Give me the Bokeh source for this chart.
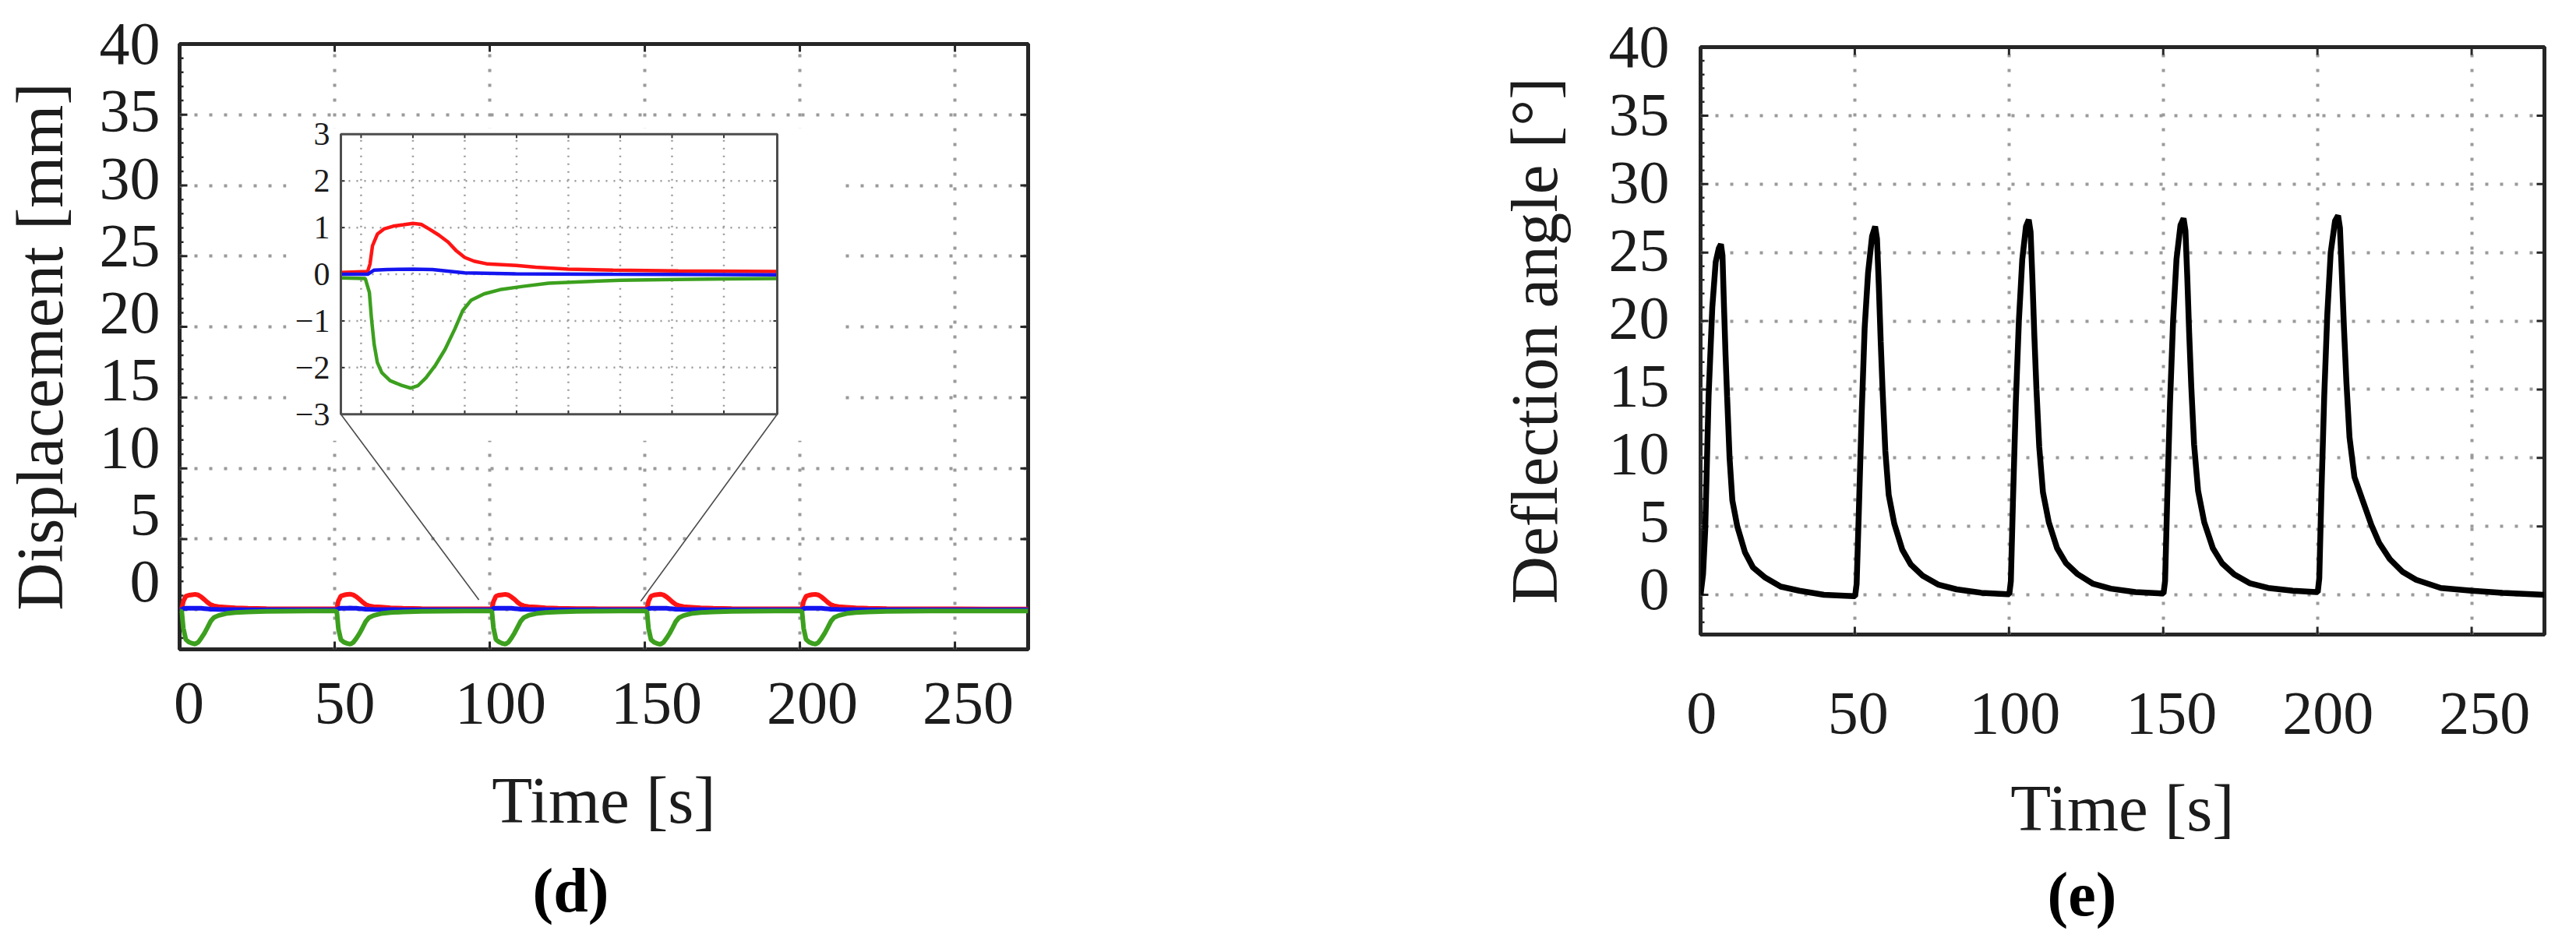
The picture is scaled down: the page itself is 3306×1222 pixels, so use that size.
import math
from bokeh.plotting import figure
from bokeh.models import Range1d, LinearAxis, FixedTicker, Title
from bokeh.layouts import row
from bokeh.embed import file_html
from bokeh.resources import INLINE
from bokeh.core.properties import value

# ---------------- axis ticks ----------------
TIME_TICKS = [0, 50, 100, 150, 200, 250]
Y_TICKS = [0, 5, 10, 15, 20, 25, 30, 35, 40]
Y_MINOR_TICKS = [v for v in range(-2, 41) if v % 5 != 0]

# ---------------- (d) displacement, five loading cycles ----------------
disp_time = [
    0, 0.7, 1.2, 2, 3, 4, 5, 6, 7, 8, 9, 10, 11, 12.5, 15, 18, 22, 28, 35, 42, 49.5,
    50, 50.7, 51.2, 52, 53, 54, 55, 56, 57, 58, 59, 60, 61, 62.5, 65, 68, 72, 78, 85, 92, 99.5,
    100, 100.7, 101.2, 102, 103, 104, 105, 106, 107, 108, 109, 110, 111, 112.5, 115, 118, 122, 128, 135, 142, 149.5,
    150, 150.7, 151.2, 152, 153, 154, 155, 156, 157, 158, 159, 160, 161, 162.5, 165, 168, 172, 178, 185, 192, 199.5,
    200, 200.7, 201.2, 202, 203, 204, 205, 206, 207, 208, 209, 210, 211, 212.5, 215, 218, 222, 228, 235, 242, 250, 260, 273.6,
]
disp_red = [
    0.05, 0.08, 0.60, 0.95, 1.03, 1.06, 1.09, 1.04, 0.90, 0.72, 0.52, 0.36, 0.28, 0.22, 0.18, 0.13, 0.10, 0.08, 0.07, 0.06, 0.06,
    0.06, 0.08, 0.62, 0.97, 1.04, 1.08, 1.10, 1.05, 0.92, 0.74, 0.54, 0.37, 0.28, 0.22, 0.19, 0.14, 0.10, 0.08, 0.07, 0.06, 0.06,
    0.06, 0.07, 0.58, 0.96, 1.03, 1.06, 1.09, 1.04, 0.90, 0.73, 0.52, 0.36, 0.28, 0.22, 0.19, 0.13, 0.10, 0.08, 0.07, 0.06, 0.06,
    0.06, 0.08, 0.60, 0.96, 1.04, 1.07, 1.10, 1.05, 0.91, 0.73, 0.53, 0.37, 0.29, 0.22, 0.18, 0.13, 0.10, 0.08, 0.07, 0.06, 0.06,
    0.06, 0.08, 0.60, 0.95, 1.03, 1.07, 1.09, 1.04, 0.90, 0.72, 0.52, 0.36, 0.28, 0.22, 0.18, 0.13, 0.10, 0.08, 0.07, 0.06, 0.06, 0.05, 0.05,
]
disp_blue = [
    0.00, 0.01, 0.08, 0.10, 0.10, 0.11, 0.11, 0.11, 0.10, 0.08, 0.06, 0.04, 0.03, 0.02, 0.01, 0.01, 0.00, 0.00, 0.00, -0.01, -0.01,
    0.00, 0.01, 0.08, 0.10, 0.11, 0.11, 0.12, 0.11, 0.10, 0.08, 0.06, 0.04, 0.03, 0.02, 0.01, 0.01, 0.00, 0.00, 0.00, -0.01, -0.01,
    0.00, 0.01, 0.09, 0.10, 0.10, 0.11, 0.11, 0.11, 0.10, 0.08, 0.06, 0.04, 0.03, 0.02, 0.01, 0.01, 0.00, 0.00, 0.00, -0.01, -0.01,
    0.00, 0.01, 0.08, 0.10, 0.11, 0.11, 0.11, 0.11, 0.10, 0.08, 0.06, 0.04, 0.03, 0.02, 0.01, 0.01, 0.00, 0.00, 0.00, -0.01, -0.01,
    0.00, 0.01, 0.08, 0.10, 0.10, 0.11, 0.11, 0.11, 0.10, 0.08, 0.06, 0.04, 0.03, 0.02, 0.01, 0.01, 0.00, 0.00, 0.00, -0.01, -0.01, -0.01, -0.01,
]
disp_green = [
    -0.08, -0.13, -1.30, -2.10, -2.29, -2.37, -2.43, -2.30, -2.00, -1.66, -1.25, -0.82, -0.56, -0.41, -0.27, -0.20, -0.15, -0.12, -0.10, -0.09, -0.09,
    -0.09, -0.14, -1.35, -2.12, -2.30, -2.38, -2.44, -2.31, -2.02, -1.68, -1.27, -0.84, -0.57, -0.41, -0.27, -0.20, -0.15, -0.12, -0.10, -0.09, -0.09,
    -0.09, -0.12, -1.28, -2.11, -2.28, -2.38, -2.44, -2.30, -2.00, -1.64, -1.22, -0.80, -0.55, -0.40, -0.27, -0.20, -0.15, -0.12, -0.10, -0.09, -0.09,
    -0.09, -0.13, -1.32, -2.12, -2.30, -2.39, -2.45, -2.32, -2.02, -1.67, -1.26, -0.83, -0.57, -0.41, -0.27, -0.20, -0.15, -0.12, -0.10, -0.09, -0.09,
    -0.09, -0.13, -1.30, -2.10, -2.29, -2.38, -2.44, -2.31, -2.01, -1.66, -1.25, -0.82, -0.56, -0.41, -0.27, -0.20, -0.15, -0.12, -0.10, -0.09, -0.09, -0.09, -0.09,
]

# ---------------- (d) inset: close-up of the third cycle ----------------
inset_red_t = [98.05, 100.64, 100.86, 101.1, 101.57, 102.2, 103.1, 104.07, 105.0, 105.8, 106.56, 107.5,
               108.4, 109.2, 110.0, 110.9, 112.2, 115.0, 116.85, 120.0, 124.3, 130.6, 140.15]
inset_red = [0.04, 0.06, 0.22, 0.61, 0.86, 0.97, 1.03, 1.06, 1.09, 1.07, 0.97, 0.84,
             0.69, 0.50, 0.36, 0.28, 0.22, 0.19, 0.15, 0.11, 0.09, 0.07, 0.06]
inset_blue_t = [98.05, 100.64, 101.26, 102.5, 105.0, 106.9, 108.7, 110.0, 114.9, 124.3, 140.15]
inset_blue = [0.00, 0.00, 0.09, 0.10, 0.11, 0.10, 0.06, 0.03, 0.01, 0.00, -0.01]
inset_green_t = [98.05, 100.4, 100.8, 101.0, 101.26, 101.57, 102.0, 102.8, 103.9, 104.8, 105.47, 106.25,
                 107.2, 108.1, 109.05, 109.8, 110.6, 111.86, 113.4, 115.6, 118.1, 121.2, 125.0, 130.3, 135.2, 140.15]
inset_green = [-0.08, -0.09, -0.39, -0.94, -1.50, -1.89, -2.11, -2.28, -2.38, -2.44, -2.39, -2.22,
               -1.94, -1.61, -1.17, -0.78, -0.56, -0.42, -0.33, -0.26, -0.19, -0.16, -0.13, -0.11, -0.10, -0.09]
INSET_X_TICKS = [100, 105, 110, 115, 120, 125, 130, 135]
INSET_Y_TICKS = [-3, -2, -1, 0, 1, 2, 3]
INSET_Y_LABELS = ["\u22123", "\u22122", "\u22121", "0", "1", "2", "3"]

# ---------------- (e) deflection angle ----------------
defl_time = [
    0, 0.8, 1.5, 2.6, 3.8, 4.9, 5.9, 6.6, 7.1, 7.6, 8.1, 8.6, 9.4, 10.3, 11.9, 14.4, 17, 21, 26, 32, 40, 49.6,
    50.1, 50.6, 51.3, 52.2, 53.2, 54.3, 55.6, 56.6, 57.2, 57.8, 58.4, 59.0, 59.9, 61.0, 62.8, 65.4, 68.2, 72, 77, 83, 91, 99.6,
    100.1, 100.6, 101.3, 102.2, 103.2, 104.3, 105.5, 106.4, 107.0, 107.6, 108.2, 108.9, 109.8, 111.0, 112.9, 115.6, 118.5, 122.3, 127.3, 133, 141, 149.6,
    150.1, 150.6, 151.3, 152.2, 153.2, 154.3, 155.6, 156.6, 157.2, 157.8, 158.4, 159.1, 160.0, 161.3, 163.3, 166.1, 169.1, 173, 178, 184, 192, 199.6,
    200.1, 200.6, 201.3, 202.2, 203.2, 204.3, 205.7, 206.7, 207.3, 207.9, 208.6, 209.4, 210.4, 212.0, 214.5, 217.5, 220, 223.5, 227.5, 232, 240, 250, 260, 273.6,
]
defl_angle = [
    0, 1.5, 4.7, 14.5, 21, 24.3, 25.3, 25.6, 24.8, 21, 17.5, 14.5, 10, 6.9, 5.0, 3.1, 2.0, 1.25, 0.6, 0.3, 0.0, -0.1,
    -0.1, 0.8, 6, 13, 19.5, 23.5, 26.2, 26.9, 26.0, 22.5, 18.5, 15, 10.5, 7.3, 5.2, 3.3, 2.2, 1.4, 0.75, 0.4, 0.15, 0.05,
    0.05, 1, 7, 14, 20, 24.5, 26.9, 27.4, 26.5, 23, 19, 15, 10.8, 7.5, 5.3, 3.4, 2.3, 1.5, 0.8, 0.45, 0.2, 0.1,
    0.1, 1, 7, 14, 20, 24.5, 27, 27.5, 26.6, 23.2, 19.2, 15.2, 11, 7.6, 5.3, 3.4, 2.3, 1.5, 0.85, 0.5, 0.3, 0.2,
    0.2, 1.2, 7.5, 14.5, 20.5, 25, 27.3, 27.7, 26.8, 23.5, 19.5, 15.5, 11.5, 8.6, 7.0, 5.1, 3.8, 2.6, 1.7, 1.1, 0.5, 0.3, 0.15, 0.0,
]

# ---------------- styling ----------------
FONT = "Liberation Serif"
TXT = "#1c1c1c"
TICK_FS = "78px"
LABEL_FS = "85px"
RED, BLUE, GREEN = "#ff1414", "#1414f0", "#3ca01e"
GRID = "#9a9a9a"
SPINE = "#262626"


def style_label_axis(ax, ticks, label, standoff, label_standoff):
    ax.ticker = FixedTicker(ticks=ticks)
    ax.axis_line_color = None
    ax.major_tick_line_color = None
    ax.minor_tick_line_color = None
    ax.major_tick_in = 0
    ax.major_tick_out = 0
    ax.minor_tick_in = 0
    ax.minor_tick_out = 0
    ax.major_label_text_font = FONT
    ax.major_label_text_font_size = TICK_FS
    ax.major_label_text_color = TXT
    ax.major_label_standoff = standoff
    ax.axis_label = label
    ax.axis_label_text_font = FONT
    ax.axis_label_text_font_size = LABEL_FS
    ax.axis_label_text_font_style = "normal"
    ax.axis_label_text_color = TXT
    ax.axis_label_standoff = label_standoff


def panel(width, height, borders, xr, yr, xl, yl, ylabel, xstand, ystand, xlab_stand, ylab_stand,
          cap, cap_offset, cap_standoff):
    p = figure(width=width, height=height, x_range=Range1d(*xr), y_range=Range1d(*yr),
               x_axis_location=None, y_axis_location=None,
               output_backend="svg", toolbar_location=None, title_location=None)
    if hasattr(p, "frame_align"):
        p.frame_align = False
    p.min_border_left, p.min_border_right, p.min_border_top, p.min_border_bottom = borders
    p.background_fill_color = "white"
    p.border_fill_color = "white"
    p.outline_line_color = SPINE
    p.outline_line_width = 5
    p.xgrid.ticker = FixedTicker(ticks=TIME_TICKS)
    p.ygrid.ticker = FixedTicker(ticks=Y_TICKS)
    p.grid.grid_line_color = GRID
    p.grid.grid_line_width = 4
    p.grid.grid_line_dash = "4 15"

    # inward ticks on the four spines (half of each dash is clipped by the frame)
    x0, x1 = xr
    y0, y1 = yr
    p.scatter(x=[x0] * len(Y_TICKS) + [x1] * len(Y_TICKS), y=Y_TICKS + Y_TICKS, marker="dash",
              size=20, line_color=SPINE, line_width=3)
    p.scatter(x=[x0] * len(Y_MINOR_TICKS), y=Y_MINOR_TICKS, marker="dash",
              size=10, line_color=SPINE, line_width=2.5)
    p.scatter(x=TIME_TICKS + TIME_TICKS, y=[y0] * len(TIME_TICKS) + [y1] * len(TIME_TICKS),
              marker="dash", angle=math.pi / 2, size=20, line_color=SPINE, line_width=3)

    # tick labels and axis titles (label ranges reproduce the original label placement)
    p.extra_x_ranges = {"xl": Range1d(*xl)}
    p.extra_y_ranges = {"yl": Range1d(*yl)}
    bx = LinearAxis(x_range_name="xl")
    style_label_axis(bx, TIME_TICKS, "Time [s]", xstand, xlab_stand)
    p.add_layout(bx, "below")
    by = LinearAxis(y_range_name="yl")
    style_label_axis(by, Y_TICKS, ylabel, ystand, ylab_stand)
    p.add_layout(by, "left")
    p.add_layout(Title(text=cap, align="left", offset=cap_offset, standoff=cap_standoff,
                       text_font=FONT, text_font_size="80px", text_font_style="bold",
                       text_color="#000000"), "below")
    return p


# ================= panel (d) =================
X_RANGE = (0, 273.6)
D_Y_RANGE = (-2.8, 40)
p1 = panel(1640, 1206, (230, 321, 56, 372), X_RANGE, D_Y_RANGE, (-3, 269.25), (-5.04, 40.001),
           "Displacement [mm]", 43, 25, 49, 27, "(d)", 453, 40)

# inset geometry (main-chart coordinates of the inset frame, and its white panel)
INSET_T = (98.05, 140.15)
INSET_V = (-3.0, 3.0)
INSET_AT_X = (52.0, 192.7)
INSET_AT_Y = (13.82, 33.62)
INSET_PAD_X = (34.4, 211.6)
INSET_PAD_Y = (11.95, 34.06)
ZOOM_FROM = [(96.5, 0.7), (148.7, 0.6)]

kx = (INSET_T[1] - INSET_T[0]) / (INSET_AT_X[1] - INSET_AT_X[0])
ky = (INSET_V[1] - INSET_V[0]) / (INSET_AT_Y[1] - INSET_AT_Y[0])
p1.extra_x_ranges["ix"] = Range1d(INSET_T[0] - (INSET_AT_X[0] - X_RANGE[0]) * kx,
                                  INSET_T[0] + (X_RANGE[1] - INSET_AT_X[0]) * kx)
p1.extra_y_ranges["iy"] = Range1d(INSET_V[0] - (INSET_AT_Y[0] - D_Y_RANGE[0]) * ky,
                                  INSET_V[0] + (D_Y_RANGE[1] - INSET_AT_Y[0]) * ky)

p1.line(disp_time, disp_red, line_color=RED, line_width=6)
p1.line(disp_time, disp_blue, line_color=BLUE, line_width=6)
p1.line(disp_time, disp_green, line_color=GREEN, line_width=6)

p1.quad(left=[INSET_PAD_X[0]], right=[INSET_PAD_X[1]], bottom=[INSET_PAD_Y[0]], top=[INSET_PAD_Y[1]],
        fill_color="white", line_color=None)
p1.segment(x0=[INSET_AT_X[0], INSET_AT_X[1]], y0=[INSET_AT_Y[0], INSET_AT_Y[0]],
           x1=[ZOOM_FROM[0][0], ZOOM_FROM[1][0]], y1=[ZOOM_FROM[0][1], ZOOM_FROM[1][1]],
           line_color="#4a4a4a", line_width=1.6)

IR = dict(x_range_name="ix", y_range_name="iy")
igx = list(INSET_X_TICKS)
igy = list(INSET_Y_TICKS[1:-1])
p1.segment(x0=igx, x1=igx, y0=[INSET_V[0]] * len(igx), y1=[INSET_V[1]] * len(igx),
           line_color=GRID, line_width=2.5, line_dash="2 8", **IR)
p1.segment(x0=[INSET_T[0]] * len(igy), x1=[INSET_T[1]] * len(igy), y0=igy, y1=igy,
           line_color=GRID, line_width=2.5, line_dash="2 8", **IR)
tdx = 5 / 13.3
tdy = 5 / 60.0
p1.segment(x0=igx + igx, x1=igx + igx,
           y0=[INSET_V[0]] * len(igx) + [INSET_V[1]] * len(igx),
           y1=[INSET_V[0] + tdy] * len(igx) + [INSET_V[1] - tdy] * len(igx),
           line_color="#333333", line_width=2, **IR)
p1.segment(x0=[INSET_T[0]] * len(igy) + [INSET_T[1]] * len(igy),
           x1=[INSET_T[0] + tdx] * len(igy) + [INSET_T[1] - tdx] * len(igy),
           y0=igy + igy, y1=igy + igy, line_color="#333333", line_width=2, **IR)

p1.line(inset_red_t, inset_red, line_color=RED, line_width=4.5, **IR)
p1.line(inset_blue_t, inset_blue, line_color=BLUE, line_width=4.5, **IR)
p1.line(inset_green_t, inset_green, line_color=GREEN, line_width=4.5, **IR)
p1.quad(left=[INSET_T[0]], right=[INSET_T[1]], bottom=[INSET_V[0]], top=[INSET_V[1]],
        fill_color=None, line_color="#4d4d4d", line_width=3, **IR)
p1.text(x=[INSET_T[0]] * len(INSET_Y_TICKS), y=INSET_Y_TICKS, text=INSET_Y_LABELS,
        x_offset=-14, text_align="right", text_baseline="middle",
        text_font=value(FONT), text_font_size="42px", text_color=TXT, **IR)

# ================= panel (e) =================
E_Y_RANGE = (-2.9, 40)
p2 = panel(1645, 1206, (542, 20, 60, 391), X_RANGE, E_Y_RANGE, (-0.3, 269.1), (-3.33, 40.001),
           "Deflection angle [\u00b0]", 75, 40, 46, 46, "(e)", 445, 30)
p2.line(defl_time, defl_angle, line_color="#000000", line_width=7.5)

layout = row(p1, p2)
open("out.html", "w").write(file_html(layout, INLINE))
